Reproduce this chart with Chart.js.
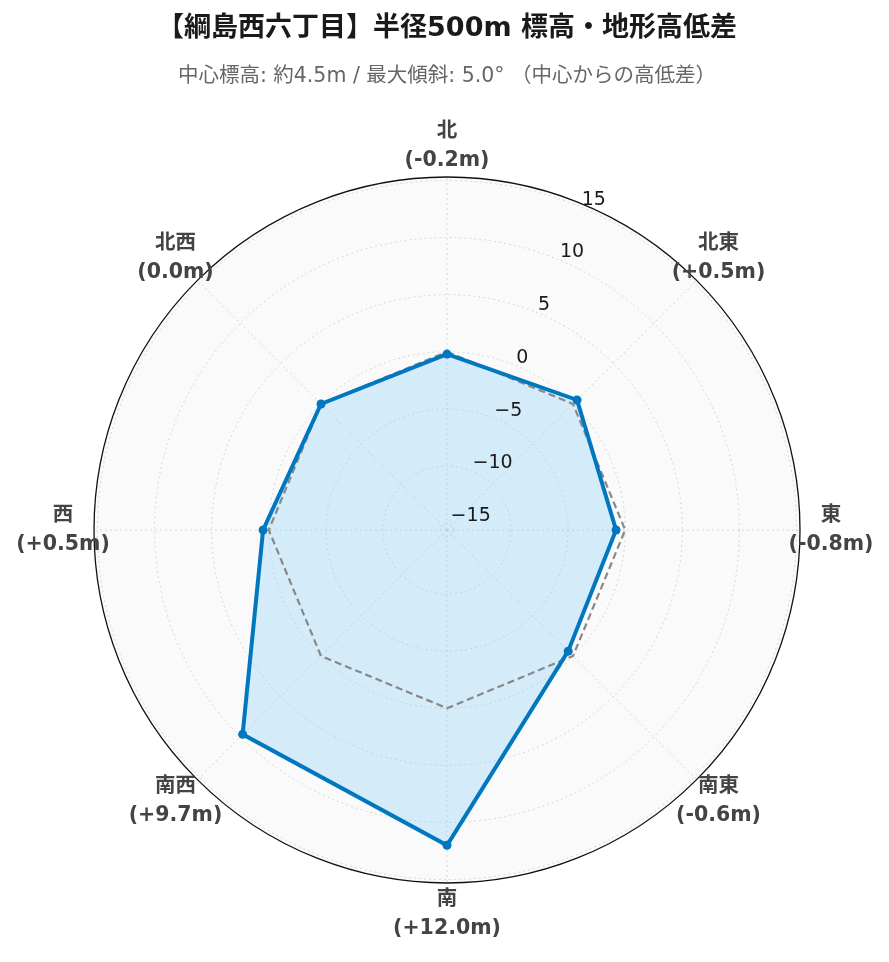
<!DOCTYPE html>
<html lang="ja">
<head>
<meta charset="utf-8">
<title>綱島西六丁目 半径500m 標高・地形高低差</title>
<script src="https://cdn.jsdelivr.net/npm/chart.js@4.4.1/dist/chart.umd.min.js"></script>
<style>
  html, body { margin: 0; padding: 0; background: #fff; }
  #wrap { width: 889px; height: 962px; }
</style>
</head>
<body>
<div id="wrap"><canvas id="terrainChart"></canvas></div>
<script>
// 8方位の高低差 (中心からの差, m)
const directions = ["北", "北東", "東", "南東", "南", "南西", "西", "北西"];
const heightDiff = [-0.2, 0.5, -0.8, -0.6, 12.0, 9.7, 0.5, 0.0];
const flatLine = [0, 0, 0, 0, 0, 0, 0, 0];
const radialTicks = [-15, -10, -5, 0, 5, 10, 15];
const radialMin = -15.6;
const radialMax = 15.3;

const FONT = "'DejaVu Sans', 'Noto Sans CJK JP', sans-serif";

function fmtDiff(v) {
  return "(" + (v > 0 ? "+" : "") + v.toFixed(1) + "m)";
}
function fmtTick(v) {
  return v < 0 ? "\u2212" + Math.abs(v) : String(v);
}

// 極座標の背景・外周・目盛ラベル・方位ラベル
const polarDecor = {
  id: "polarDecor",
  beforeDraw(chart) {
    const s = chart.scales.r;
    const ctx = chart.ctx;
    ctx.save();
    ctx.fillStyle = "#fafafa";
    ctx.beginPath();
    ctx.arc(s.xCenter, s.yCenter, s.drawingArea, 0, Math.PI * 2);
    ctx.fill();
    ctx.restore();
  },
  afterDraw(chart) {
    const s = chart.scales.r;
    const ctx = chart.ctx;
    ctx.save();
    ctx.strokeStyle = "#111";
    ctx.lineWidth = 1.3;
    ctx.beginPath();
    ctx.arc(s.xCenter, s.yCenter, s.drawingArea, 0, Math.PI * 2);
    ctx.stroke();

    // radial tick labels along the 22.5deg spoke
    ctx.font = "19px " + FONT;
    ctx.fillStyle = "#1a1a1a";
    ctx.textAlign = "left";
    ctx.textBaseline = "alphabetic";
    radialTicks.forEach(v => {
      const p = s.getPointPosition(0.5, s.getDistanceFromCenterForValue(v));
      ctx.fillText(fmtTick(v), p.x + 1, p.y - 2.5);
    });

    // direction labels
    ctx.font = "bold 20.5px " + FONT;
    ctx.fillStyle = "#444";
    ctx.textAlign = "center";
    ctx.textBaseline = "middle";
    directions.forEach((d, i) => {
      const p = s.getPointPosition(i, 384);
      ctx.fillText(d, p.x, p.y - 14.5);
      ctx.fillText(fmtDiff(heightDiff[i]), p.x, p.y + 14.5);
    });
    ctx.restore();
  }
};

new Chart(document.getElementById("terrainChart"), {
  type: "radar",
  data: {
    labels: directions,
    datasets: [
      {
        label: "高低差",
        data: heightDiff,
        borderColor: "#0077be",
        borderWidth: 4,
        backgroundColor: "rgba(135, 206, 250, 0.32)",
        fill: "start",
        pointRadius: 4.5,
        pointBackgroundColor: "#0077be",
        pointBorderWidth: 0
      },
      {
        label: "基準 (0m)",
        data: flatLine,
        borderColor: "#888",
        borderWidth: 2.2,
        borderDash: [7, 4],
        fill: false,
        pointRadius: 0
      }
    ]
  },
  options: {
    responsive: true,
    maintainAspectRatio: false,
    animation: false,
    layout: { padding: { left: 94, right: 89, top: 0, bottom: 78 } },
    elements: { line: { tension: 0 } },
    plugins: {
      legend: { display: false },
      tooltip: { enabled: false },
      filler: { drawTime: "beforeDatasetsDraw" },
      title: {
        display: true,
        text: "【綱島西六丁目】半径500m 標高・地形高低差",
        color: "#1a1a1a",
        font: { family: FONT, size: 27, weight: "bold" },
        padding: { top: 12.8, bottom: 8 }
      },
      subtitle: {
        display: true,
        text: "中心標高: 約4.5m / 最大傾斜: 5.0° （中心からの高低差）",
        color: "#666",
        font: { family: FONT, size: 20.5 },
        padding: { top: 11.1, bottom: 88.9 }
      }
    },
    scales: {
      r: {
        min: radialMin,
        max: radialMax,
        afterBuildTicks(scale) {
          scale.ticks = radialTicks.map(v => ({ value: v }));
        },
        ticks: { display: false },
        pointLabels: { display: false },
        grid: { circular: true, color: "#d6d6d6", lineWidth: 1 },
        border: { dash: [2, 3] },
        angleLines: { color: "#d6d6d6", lineWidth: 1, borderDash: [2, 3] }
      }
    }
  },
  plugins: [polarDecor]
});
</script>
</body>
</html>
